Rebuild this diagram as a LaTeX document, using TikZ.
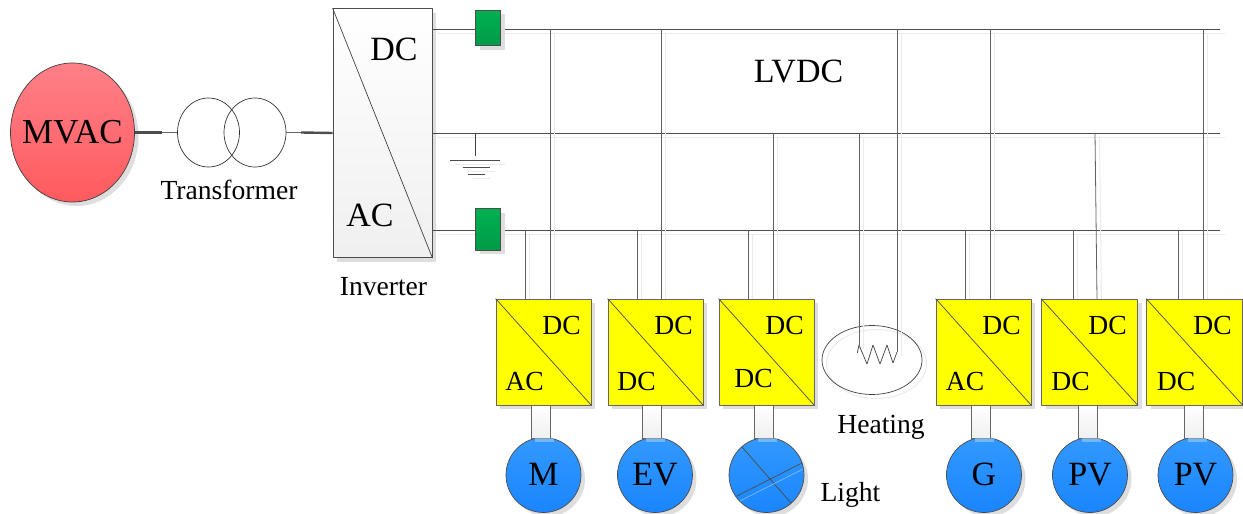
\documentclass[tikz,border=0pt]{standalone}
\usepackage{fontspec}
\setmainfont{Liberation Serif}
\usetikzlibrary{shapes.geometric,shadows}
\definecolor{convyellow}{RGB}{255,255,0}
\definecolor{loadtop}{HTML}{3399FF}
\definecolor{loadbot}{HTML}{1A85FF}
\definecolor{brktop}{HTML}{00B050}
\definecolor{brkbot}{HTML}{009B48}
\definecolor{redtop}{HTML}{FF8088}
\definecolor{redbot}{HTML}{FF5A5E}
\tikzset{
	softshadow/.style={drop shadow={shadow xshift=4pt,shadow yshift=-4pt,fill=black!13,opacity=1}},
	ghost/.style={preaction={draw=black!8,line width=1pt,transform canvas={shift={(4.5pt,-4pt)}}}},
	busline/.style={draw=black!70,line width=0.75pt,ghost},
	link/.style={draw=black!62,line width=0.8pt,ghost},
	heavy/.style={draw=black!70,line width=2.4pt},
	winding/.style={ellipse,draw=black!80,line width=0.7pt,minimum width=62pt,minimum height=69pt,inner sep=0pt},
	breaker/.style={rectangle,draw=black!70,line width=0.7pt,top color=brktop,bottom color=brkbot,minimum width=25pt,inner sep=0pt,softshadow},
	conv/.style={rectangle,draw=black!60,line width=0.9pt,fill=convyellow,minimum height=106pt,inner sep=0pt,softshadow},
	stub/.style={rectangle,draw=black!60,line width=0.9pt,top color=white,bottom color=black!6,minimum width=19pt,minimum height=33pt,inner sep=0pt},
	load/.style={circle,draw=black!70,line width=0.7pt,top color=loadtop,bottom color=loadbot,minimum size=75pt,inner sep=0pt,softshadow},
	big/.style={font=\fontsize{34}{34}\selectfont,anchor=base,inner sep=0pt},
	small/.style={font=\fontsize{27.6}{28}\selectfont,anchor=base,inner sep=0pt},
}
\begin{document}
\begin{tikzpicture}[x=1pt,y=-1pt,line join=round]
		\useasboundingbox (0,0) rectangle (1243,514);
		% source and transformer
		\node[ellipse,draw=black!75,line width=0.7pt,top color=redtop,bottom color=redbot,minimum width=124pt,minimum height=139pt,inner sep=0pt,softshadow] (mvac) at (72.5,132.5) {};
		\node[big,font=\fontsize{35}{35}\selectfont] (mvactext) at (72.5,143.5) {MVAC};
		\node[winding] (wind1) at (208.5,132.5) {};
		\node[winding] (wind2) at (255,132.5) {};
		\node[small] (transtext) at (229,199.5) {Transformer};
		% inverter
		\node[rectangle,draw=black!70,line width=0.8pt,top color=white,bottom color=black!6,minimum width=99pt,minimum height=249pt,inner sep=0pt,softshadow] (inv) at (382.5,133) {};
		\draw[black!75,line width=0.7pt] (inv.north west) -- (inv.south east);
		\node[big] (invdc) at (394,60.5) {DC};
		\node[big] (invac) at (370,226.5) {AC};
		\node[small] (invtext) at (383.5,295) {Inverter};
		\coordinate (kinka) at (162,132.5);
		\coordinate (kinkb) at (301,132.5);
		\draw[heavy] (mvac.east) -- (kinka);
		\draw[black!60,line width=0.7pt] (kinka) -- (wind1.west);
		\draw[black!60,line width=0.7pt] (wind2.east) -- (kinkb);
		\draw[heavy] (kinkb) -- (inv.west);
		% buses
		\coordinate (endpos) at (1220,29);
		\coordinate (endmid) at (1220,133);
		\coordinate (endneg) at (1220,230);
		\draw[busline] (inv.east |- endpos) -- (endpos);
		\draw[busline] (inv.east |- endmid) -- (endmid);
		\draw[busline] (inv.east |- endneg) -- (endneg);
		\node[breaker,minimum height=35.5pt] (brka) at (488,27.75) {};
		\node[breaker,minimum height=41.5pt] (brkb) at (488,229.5) {};
		\node[big] (lvdc) at (798.5,82.5) {LVDC};
		% ground
		\coordinate (gndtop) at (475,133);
		\coordinate (gndbot) at (475,156);
		\coordinate (gnda) at (450,160);
		\coordinate (gndb) at (500,160);
		\coordinate (gndc) at (463,167.5);
		\coordinate (gndd) at (490,167.5);
		\coordinate (gnde) at (468,174.5);
		\coordinate (gndf) at (485,174.5);
		\draw[black!75,line width=0.7pt] (gndtop) -- (gndbot);
		\draw[busline,line width=0.7pt] (gnda) -- (gndb);
		\draw[busline,line width=0.7pt] (gndc) -- (gndd);
		\draw[busline,line width=0.7pt] (gnde) -- (gndf);
		% converters with their loads
		\foreach \i/\bx/\bw/\cx/\nx/\qx/\px/\tapy/\ta/\lx/\ty/\tb in {
			1/543.5/95/543.5/525/550/550/29/AC/524.5/390.5/M,
			2/655.5/95/655/637/661/661/29/DC/636.5/390.5/EV,
			3/766.5/95/766.5/748/773/773/133/DC/753.5/387.5/{},
			4/983.5/95/984/965/990/990/29/AC/965/390.5/G,
			5/1089.5/96/1090/1073/1095/1097/133/DC/1070.5/390.5/PV,
			6/1194.5/96/1195.5/1178/1203/1203/29/DC/1176/390.5/PV}
		{
			\coordinate (tapn\i) at (\nx,230);
			\coordinate (feetn\i) at (\nx,299);
			\coordinate (tapp\i) at (\qx,\tapy);
			\coordinate (feetp\i) at (\px,299);
			\draw[link] (tapn\i) -- (feetn\i);
			\draw[link] (tapp\i) -- (feetp\i);
			\node[conv,minimum width=\bw pt] (box\i) at (\bx,352) {};
			\draw[black!70,line width=0.7pt] (box\i.north west) -- (box\i.south east);
			\node[small] (up\i) at (\bx+18,334) {DC};
			\node[small] (low\i) at (\lx,\ty) {\ta};
			\node[load] (circ\i) at (\cx,475) {};
			\node[stub] (stub\i) at (\px-9.5,421.5) {};
			\fill[white,opacity=.3] (\px-15,438) rectangle (\px+4,442);
			\node[big] (name\i) at (\cx,485.5) {\tb};
		}
		% lamp cross
		\draw[black!70,line width=0.7pt] (742,447) -- (791,503);
		\draw[black!70,line width=0.7pt] (737,496) -- (802,463);
		\draw[white,opacity=.4,line width=0.7pt] (740,501) -- (803,469);
		\node[small] (lighttext) at (850.5,501) {Light};
		% heater
		\node[ellipse,draw=black!75,line width=0.7pt,ghost,minimum width=100pt,minimum height=69pt,inner sep=0pt] (heat) at (872,360) {};
		\coordinate (heata) at (859,133);
		\coordinate (heatb) at (897,29);
		\coordinate (heatc) at (859,345);
		\coordinate (heatd) at (897,352);
		\draw[link] (heata) -- (heatc);
		\draw[link] (heatb) -- (heatd);
		\draw[black!75,line width=0.7pt] (857.3,353) -- (heatc) -- (867,364) -- (873,345) -- (880,364) -- (887,345) -- (893,363) -- (heatd);
		\node[small] (heattext) at (881,433) {Heating};
\end{tikzpicture}
\end{document}
